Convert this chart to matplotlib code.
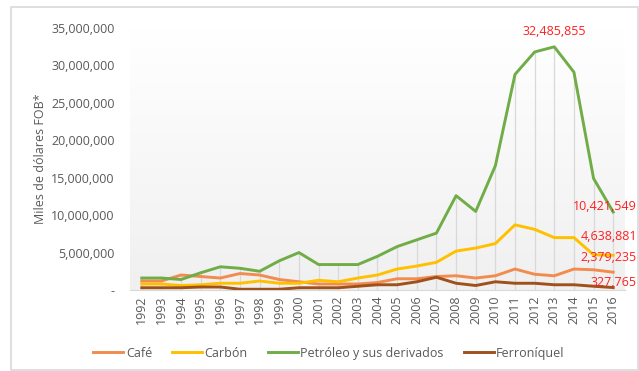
import matplotlib.pyplot as plt
import matplotlib.patches as patches
from matplotlib.ticker import FuncFormatter
import numpy as np

plt.rcParams['font.family'] = ['Open Sans', 'DejaVu Sans']

years = list(range(1992, 2017))

# miles de dolares FOB
cafe = [1.2e6, 1.2e6, 2.0e6, 1.8e6, 1.6e6, 2.2e6, 2.0e6, 1.4e6, 1.1e6, 0.8e6,
        0.8e6, 0.8e6, 1.0e6, 1.5e6, 1.5e6, 1.8e6, 1.9e6, 1.6e6, 1.9e6, 2.8e6,
        2.1e6, 1.9e6, 2.8e6, 2.7e6, 2379235]
carbon = [0.8e6, 0.8e6, 0.6e6, 0.7e6, 0.9e6, 0.9e6, 1.2e6, 0.9e6, 0.9e6, 1.3e6,
          1.1e6, 1.6e6, 2.0e6, 2.8e6, 3.2e6, 3.7e6, 5.2e6, 5.6e6, 6.2e6, 8.7e6,
          8.1e6, 7.0e6, 7.0e6, 4.7e6, 4638881]
petroleo = [1.6e6, 1.6e6, 1.4e6, 2.3e6, 3.1e6, 2.9e6, 2.5e6, 3.9e6, 5.0e6, 3.4e6,
            3.4e6, 3.4e6, 4.5e6, 5.8e6, 6.7e6, 7.6e6, 12.6e6, 10.5e6, 16.6e6, 28.8e6,
            31.8e6, 32485855, 29.1e6, 14.9e6, 10421549]
ferroniquel = [0.3e6, 0.3e6, 0.3e6, 0.4e6, 0.4e6, 0.1e6, 0.1e6, 0.1e6, 0.3e6, 0.3e6,
               0.3e6, 0.5e6, 0.7e6, 0.7e6, 1.1e6, 1.7e6, 0.9e6, 0.6e6, 1.1e6, 0.9e6,
               0.9e6, 0.7e6, 0.7e6, 0.5e6, 327765]

series = [('Café', cafe, '#F28C4E'),
          ('Carbón', carbon, '#FFC000'),
          ('Petróleo y sus derivados', petroleo, '#70AD47'),
          ('Ferroníquel', ferroniquel, '#A0501A')]

fig = plt.figure(figsize=(6.39, 3.71), dpi=100)
fig.patches.append(patches.Rectangle((11 / 639, 0.003), 1 - 11 / 639 - 0.002, 1 - 7 / 371 - 0.003,
                                     transform=fig.transFigure, fill=False,
                                     edgecolor='#D9D9D9', linewidth=1.2))

ax = fig.add_axes([130 / 639, 81 / 371, 495 / 639, 262 / 371])
x = np.arange(len(years))

# fondo degradado
grad = np.linspace(0, 1, 100).reshape(-1, 1)
ax.imshow(grad, extent=[-0.6, len(years) - 0.4, 0, 35e6], aspect='auto',
          cmap=plt.matplotlib.colors.LinearSegmentedColormap.from_list('g', ['#F0F0F0', '#FFFFFF']),
          origin='lower', zorder=0)

# lineas de caida hasta el valor mas alto de cada ano
tops = np.max(np.array([cafe, carbon, petroleo, ferroniquel]), axis=0)
ax.vlines(x, 0, tops, color='#D9D9D9', linewidth=0.9, zorder=1)

for name, vals, col in series:
    ax.plot(x, vals, color=col, linewidth=2.1, label=name, zorder=3)

ax.set_xlim(-0.6, len(years) - 0.4)
ax.set_ylim(0, 35e6)
ax.set_xticks(x)
ax.set_xticklabels([str(y) for y in years], rotation=90, fontsize=9, color='#595959')
ax.set_yticks(np.arange(0, 35e6 + 1, 5e6))
ax.yaxis.set_major_formatter(FuncFormatter(lambda v, p: '-' if v == 0 else f'{int(v):,}'))
ax.tick_params(axis='y', labelsize=9, labelcolor='#595959', length=0, pad=11)
ax.tick_params(axis='x', length=0, pad=4)
ax.set_ylabel('Miles de dólares FOB*', fontsize=9, color='#595959', labelpad=3)

for s in ['top', 'right', 'left']:
    ax.spines[s].set_visible(False)
ax.spines['bottom'].set_color('#D9D9D9')

red = '#FF2020'
ax.annotate(f'{petroleo[21]:,}', (x[21], petroleo[21]), xytext=(0, 6),
            textcoords='offset points', ha='center', va='bottom', color=red, fontsize=9)
last = len(years) - 1
for (name, vals, col), dy in zip(series, [1.9e6, 2.5e6, 0.7e6, 0.7e6]):
    ax.text(x[last] + 1.2, vals[last] + dy, f'{vals[last]:,}', ha='right', va='center',
            color=red, fontsize=9, zorder=4, clip_on=False)

fig.legend(loc='lower center', bbox_to_anchor=(0.515, 0.0), ncol=4, frameon=False,
           fontsize=9, handlelength=2.4, columnspacing=1.6, handletextpad=0.2,
           labelcolor='#595959')

fig.savefig('out.png', dpi=100)
